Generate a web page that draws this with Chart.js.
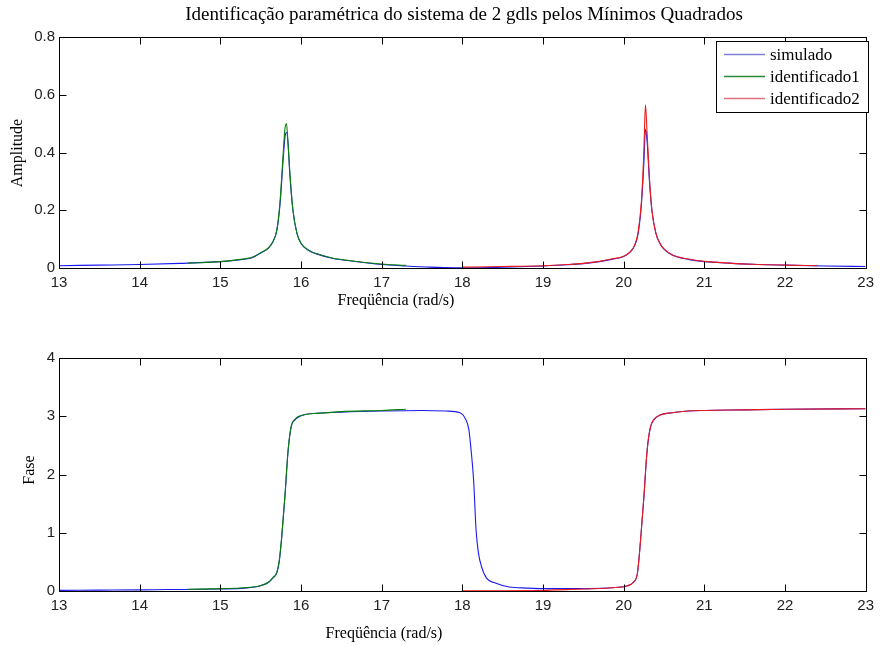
<!DOCTYPE html>
<html>
<head>
<meta charset="utf-8">
<script src="https://cdn.jsdelivr.net/npm/chart.js@4.4.1/dist/chart.umd.min.js"></script>
<style>
  html, body { margin: 0; padding: 0; background: #fff; }
  #wrap { position: relative; width: 880px; height: 646px; }
  canvas { position: absolute; left: 0; }
</style>
</head>
<body>
<div id="wrap">
  <canvas id="ampChart" width="880" height="323" style="top:0"></canvas>
  <canvas id="phaseChart" width="880" height="323" style="top:323px"></canvas>
</div>
<script>
// Tick labels
const freqTicks = [13, 14, 15, 16, 17, 18, 19, 20, 21, 22, 23];
const ampTicks = [0, 0.2, 0.4, 0.6, 0.8];
const phaseTicks = [0, 1, 2, 3, 4];

// Amplitude - simulado
const ampFreqSim = [13, 13.5, 14, 14.5, 15, 15.2, 15.4, 15.5, 15.6, 15.65, 15.7, 15.74, 15.78, 15.8, 15.82, 15.84, 15.86, 15.9, 15.95, 16, 16.1, 16.2, 16.4, 16.6, 16.8, 17, 17.3, 17.6, 17.9, 18.2, 18.5, 18.8, 19, 19.3, 19.5, 19.7, 19.85, 20, 20.08, 20.14, 20.18, 20.22, 20.25, 20.27, 20.29, 20.32, 20.35, 20.4, 20.45, 20.5, 20.6, 20.8, 21, 21.3, 21.6, 22, 22.5, 23];
const ampSim = [0.008, 0.01, 0.012, 0.016, 0.022, 0.027, 0.036, 0.052, 0.07, 0.09, 0.13, 0.22, 0.38, 0.45, 0.47, 0.43, 0.33, 0.2, 0.12, 0.085, 0.06, 0.048, 0.033, 0.025, 0.018, 0.012, 0.007, 0.003, 0.001, 0.001, 0.003, 0.005, 0.007, 0.011, 0.015, 0.022, 0.03, 0.04, 0.055, 0.08, 0.12, 0.22, 0.36, 0.48, 0.44, 0.3, 0.2, 0.12, 0.085, 0.065, 0.045, 0.03, 0.022, 0.017, 0.013, 0.01, 0.007, 0.005];

// Amplitude - identificado1
const ampFreqId1 = [14.6, 15, 15.2, 15.4, 15.5, 15.6, 15.65, 15.7, 15.74, 15.78, 15.8, 15.82, 15.84, 15.86, 15.9, 15.95, 16, 16.1, 16.2, 16.4, 16.6, 16.8, 17, 17.3];
const ampId1 = [0.017, 0.022, 0.028, 0.038, 0.053, 0.071, 0.09, 0.13, 0.23, 0.4, 0.48, 0.5, 0.43, 0.34, 0.2, 0.12, 0.086, 0.061, 0.049, 0.034, 0.026, 0.019, 0.014, 0.009];

// Amplitude - identificado2
const ampFreqId2 = [18, 18.5, 19, 19.3, 19.5, 19.7, 19.85, 20, 20.08, 20.14, 20.18, 20.22, 20.25, 20.27, 20.29, 20.32, 20.35, 20.4, 20.45, 20.5, 20.6, 20.8, 21, 21.3, 21.6, 22, 22.4];
const ampId2 = [0.003, 0.005, 0.008, 0.012, 0.016, 0.023, 0.031, 0.041, 0.056, 0.082, 0.125, 0.23, 0.4, 0.565, 0.47, 0.31, 0.2, 0.12, 0.086, 0.066, 0.046, 0.031, 0.023, 0.017, 0.013, 0.01, 0.008];

// Fase - simulado
const phaseFreqSim = [13, 13.5, 14, 14.35, 14.8, 15, 15.3, 15.5, 15.6, 15.65, 15.7, 15.73, 15.76, 15.8, 15.84, 15.88, 15.92, 15.96, 16.05, 16.2, 16.5, 17, 17.5, 17.8, 17.97, 18.04, 18.08, 18.11, 18.14, 18.17, 18.2, 18.24, 18.3, 18.4, 18.58, 18.8, 19, 19.5, 19.9, 20.05, 20.12, 20.17, 20.21, 20.25, 20.29, 20.33, 20.38, 20.45, 20.6, 20.8, 21, 21.5, 22, 23];
const phaseSim = [0.01, 0.015, 0.02, 0.025, 0.03, 0.035, 0.05, 0.09, 0.15, 0.22, 0.31, 0.5, 0.9, 1.6, 2.4, 2.83, 2.93, 2.98, 3.03, 3.05, 3.07, 3.09, 3.1, 3.09, 3.06, 2.95, 2.78, 2.4, 1.9, 1.05, 0.65, 0.41, 0.22, 0.14, 0.07, 0.05, 0.04, 0.04, 0.06, 0.09, 0.15, 0.3, 0.88, 1.6, 2.4, 2.8, 2.95, 3.02, 3.06, 3.09, 3.1, 3.11, 3.12, 3.13];

// Fase - identificado1
const phaseFreqId1 = [14.6, 15, 15.3, 15.5, 15.6, 15.65, 15.7, 15.73, 15.76, 15.8, 15.84, 15.88, 15.92, 15.96, 16.05, 16.2, 16.5, 17, 17.3];
const phaseId1 = [0.03, 0.04, 0.055, 0.095, 0.155, 0.225, 0.32, 0.52, 0.92, 1.62, 2.42, 2.84, 2.94, 2.99, 3.03, 3.05, 3.08, 3.1, 3.12];

// Fase - identificado2
const phaseFreqId2 = [18, 18.5, 19, 19.15, 19.5, 19.9, 20.05, 20.12, 20.17, 20.21, 20.25, 20.29, 20.33, 20.38, 20.45, 20.6, 20.8, 21, 21.5, 22, 23];
const phaseId2 = [0.005, 0.005, 0.008, 0.02, 0.035, 0.06, 0.09, 0.15, 0.3, 0.88, 1.6, 2.4, 2.8, 2.95, 3.02, 3.06, 3.09, 3.1, 3.11, 3.12, 3.13];

const seriesNames = ['simulado', 'identificado1', 'identificado2'];
const seriesColors = ['#1a1aee', '#0a800a', '#ee1a1a'];
const legendColors = ['#7f7fd8', '#2a8a3a', '#e07080'];

const chartTitle = 'Identificação paramétrica do sistema de 2 gdls pelos Mínimos Quadrados';
const xTitle = 'Freqüência (rad/s)';

const serif = '"Liberation Serif", "Times New Roman", serif';
const sans = '"Liberation Sans", Arial, sans-serif';

function pts(xs, ys) {
    return xs.map((x, i) => ({ x: x, y: ys[i] }));
}

function makeSets(sets) {
    return sets.map((d, i) => ({
        label: seriesNames[i],
        data: d,
        borderColor: seriesColors[i],
        borderWidth: 1.1,
        pointRadius: 0,
        fill: false,
        cubicInterpolationMode: 'monotone',
        order: 3 - i
    }));
}

// MATLAB style box, inward ticks, labels and legend
const matlabFrame = {
    id: 'matlabFrame',
    afterDraw(chart, args, o) {
        const { ctx, chartArea: a, scales } = chart;
        ctx.save();
        ctx.strokeStyle = '#000';
        ctx.lineWidth = 1;
        const L = Math.round(a.left) + 0.5, R = Math.round(a.right) + 0.5;
        const T = Math.round(a.top) + 0.5, B = Math.round(a.bottom) + 0.5;
        ctx.strokeRect(L, T, R - L, B - T);

        ctx.beginPath();
        scales.x.ticks.forEach(t => {
            const px = Math.round(scales.x.getPixelForValue(t.value)) + 0.5;
            ctx.moveTo(px, B); ctx.lineTo(px, B - 7);
            ctx.moveTo(px, T); ctx.lineTo(px, T + 7);
        });
        scales.y.ticks.forEach(t => {
            const py = Math.round(scales.y.getPixelForValue(t.value)) + 0.5;
            ctx.moveTo(L, py); ctx.lineTo(L + 7, py);
            ctx.moveTo(R, py); ctx.lineTo(R - 7, py);
        });
        ctx.stroke();

        ctx.fillStyle = '#000';
        ctx.textBaseline = 'middle';
        ctx.textAlign = 'center';
        if (o.title) {
            ctx.font = '19px ' + serif;
            ctx.fillText(o.title, 464, 15);
        }
        ctx.font = '16px ' + serif;
        ctx.fillText(o.xText, o.xPos[0], o.xPos[1]);

        ctx.save();
        ctx.translate(o.yPos[0], o.yPos[1]);
        ctx.rotate(-Math.PI / 2);
        ctx.fillText(o.yText, 0, 0);
        ctx.restore();

        if (o.legend) {
            const bx = 716.5, by = 41.5, bw = 152, bh = 71;
            ctx.fillStyle = '#fff';
            ctx.fillRect(bx, by, bw, bh);
            ctx.strokeStyle = '#000';
            ctx.strokeRect(bx, by, bw, bh);
            ctx.font = '17px ' + serif;
            ctx.textAlign = 'left';
            seriesNames.forEach((name, i) => {
                const y = 54.5 + i * 22;
                ctx.strokeStyle = legendColors[i];
                ctx.lineWidth = 1.5;
                ctx.beginPath();
                ctx.moveTo(724, y);
                ctx.lineTo(765, y);
                ctx.stroke();
                ctx.fillStyle = '#000';
                ctx.fillText(name, 770, y + 1);
            });
        }
        ctx.restore();
    }
};

function axisX() {
    return {
        type: 'linear', min: 13, max: 23,
        grid: { display: false, drawTicks: false },
        border: { display: false },
        afterBuildTicks: s => { s.ticks = freqTicks.map(v => ({ value: v })); },
        afterFit: s => { s.height = 55; },
        ticks: { padding: 6, color: '#222', font: { family: sans, size: 15 }, maxRotation: 0, autoSkip: false }
    };
}

function axisY(max, tickVals) {
    return {
        type: 'linear', min: 0, max: max,
        grid: { display: false, drawTicks: false },
        border: { display: false },
        afterBuildTicks: s => { s.ticks = tickVals.map(v => ({ value: v })); },
        afterFit: s => { s.width = 59; },
        ticks: { padding: 4, color: '#222', font: { family: sans, size: 15 } }
    };
}

const baseOpts = {
    responsive: false,
    animation: false,
    events: [],
    plugins: { legend: { display: false }, tooltip: { enabled: false } }
};

// Amplitude chart
new Chart(document.getElementById('ampChart'), {
    type: 'line',
    data: { datasets: makeSets([pts(ampFreqSim, ampSim), pts(ampFreqId1, ampId1), pts(ampFreqId2, ampId2)]) },
    options: {
        ...baseOpts,
        layout: { padding: { top: 37, right: 8, left: 0, bottom: 0 } },
        scales: { x: axisX(), y: axisY(0.8, ampTicks) },
        plugins: {
            ...baseOpts.plugins,
            matlabFrame: { title: chartTitle, xText: xTitle, xPos: [396, 301], yText: 'Amplitude', yPos: [18, 153], legend: true }
        }
    },
    plugins: [matlabFrame]
});

// Phase chart
new Chart(document.getElementById('phaseChart'), {
    type: 'line',
    data: { datasets: makeSets([pts(phaseFreqSim, phaseSim), pts(phaseFreqId1, phaseId1), pts(phaseFreqId2, phaseId2)]) },
    options: {
        ...baseOpts,
        layout: { padding: { top: 35, right: 8, left: 0, bottom: 0 } },
        scales: { x: axisX(), y: axisY(4, phaseTicks) },
        plugins: {
            ...baseOpts.plugins,
            matlabFrame: { xText: xTitle, xPos: [384, 311], yText: 'Fase', yPos: [30, 147], legend: false }
        }
    },
    plugins: [matlabFrame]
});
</script>
</body>
</html>
